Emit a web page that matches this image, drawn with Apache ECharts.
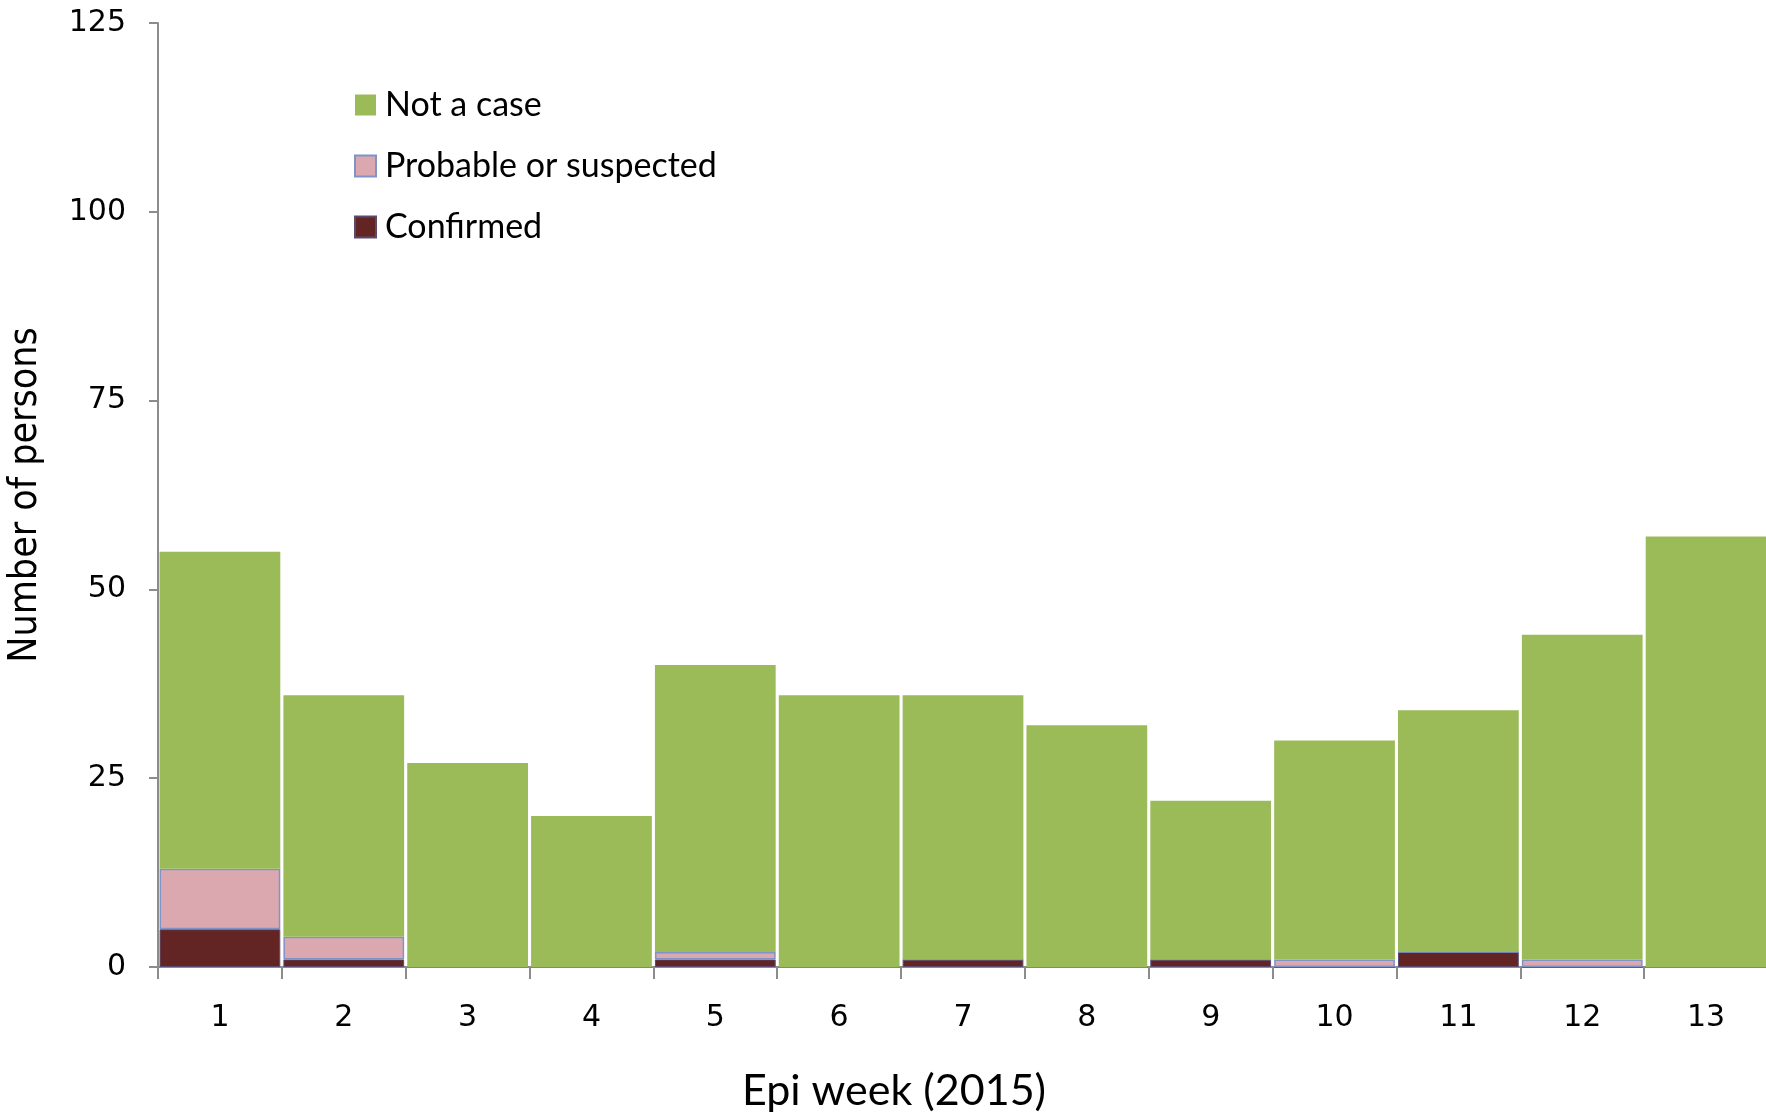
<!DOCTYPE html>
<html><head><meta charset="utf-8">
<script src="https://cdn.jsdelivr.net/npm/echarts@6/dist/echarts.min.js"></script>
<style>html,body{margin:0;padding:0;background:#fff}#c{width:1766px;height:1115px}</style>
</head><body><div id="c"></div>
<script>
const weeks = ['1','2','3','4','5','6','7','8','9','10','11','12','13'];
const confirmed = [5, 1, 0, 0, 1, 0, 1, 0, 1, 0, 2, 0, 0];
const probable = [8, 3, 0, 0, 1, 0, 0, 0, 0, 1, 0, 1, 0];
const notACase = [42, 32, 27, 20, 38, 36, 35, 32, 21, 29, 32, 43, 57];

const chart = echarts.init(document.getElementById('c'));
chart.setOption({
  animation: false,
  grid: {left: 158, right: -2, top: 23, bottom: 148, containLabel: false, outerBoundsMode: 'none'},
  legend: {
    orient: 'vertical', left: 349, top: 83, itemWidth: 21, itemHeight: 21, itemGap: 27,
    textStyle: {fontFamily: 'Lato', fontSize: 34, lineHeight: 34, color: '#000', padding: [0,0,0,4]},
    data: ['Not a case', 'Probable or suspected', 'Confirmed'],
    icon: 'rect'
  },
  xAxis: {
    type: 'category', data: weeks,
    name: 'Epi week (2015)', nameLocation: 'middle', nameGap: 103,
    nameTextStyle: {fontFamily: 'Lato', fontSize: 43, color: '#000', padding: [0, 138, 0, 0]},
    axisLine: {lineStyle: {color: '#8c8c8c', width: 2}},
    axisTick: {show: true, length: 12, lineStyle: {color: '#8c8c8c', width: 2}},
    axisLabel: {fontFamily: 'DejaVu Sans', fontSize: 30, color: '#000', margin: 36}
  },
  yAxis: {
    type: 'value', min: 0, max: 125, interval: 25,
    name: 'Number of persons', nameLocation: 'middle', nameGap: 113, nameRotate: 90,
    nameTextStyle: {fontFamily: 'DejaVu Sans Condensed, Lato', fontSize: 39, color: '#000'},
    axisLine: {show: true, lineStyle: {color: '#8c8c8c', width: 2}},
    axisTick: {show: true, length: 9, lineStyle: {color: '#8c8c8c', width: 2}},
    splitLine: {show: false},
    axisLabel: {fontFamily: 'DejaVu Sans', fontSize: 30, color: '#000', margin: 32}
  },
  series: [
    {name: 'Confirmed', type: 'bar', stack: 's', data: confirmed, barCategoryGap: '2.5%',
     itemStyle: {color: '#632523', borderColor: '#5a4a70', borderWidth: 1}},
    {name: 'Probable or suspected', type: 'bar', stack: 's', data: probable,
     itemStyle: {color: '#dba8b0', borderColor: '#7f93c8', borderWidth: 1.5}},
    {name: 'Not a case', type: 'bar', stack: 's', data: notACase,
     itemStyle: {color: '#9bbb59'}}
  ]
});
</script></body></html>
